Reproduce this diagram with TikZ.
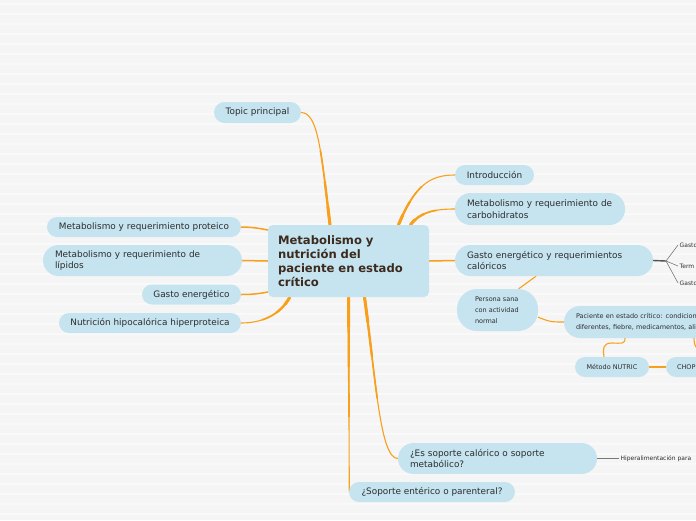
\documentclass[tikz,border=0pt]{standalone}
\usepackage{fontspec}
\setmainfont{DejaVu Sans}
\usetikzlibrary{calc}
\pgfdeclarelayer{bglayer}
\pgfdeclarelayer{connlayer}
\pgfsetlayers{bglayer,connlayer,main}
\definecolor{bgc}{RGB}{245,245,245}
\definecolor{stripec}{RGB}{249,249,249}
\definecolor{nodefill}{RGB}{197,228,240}
\definecolor{orangec}{RGB}{248,160,28}
\definecolor{txtc}{RGB}{45,45,45}
\definecolor{titlec}{RGB}{60,42,30}
\definecolor{grayc}{RGB}{120,120,120}
\tikzset{
  pill/.style={fill=nodefill, draw=none, rounded corners=#1, text=txtc, inner sep=0pt,
    font=\fontsize{8.9}{11.5}\selectfont},
  pill/.default=10pt,
  pilltwo/.style={pill=15.5pt, align=left, inner xsep=12pt},
  small/.style={font=\fontsize{6.5}{11}\selectfont},
  leaf/.style={text=txtc, font=\fontsize{6}{7}\selectfont, inner sep=1.5pt, anchor=west},
  conn/.style={draw=orangec, line width=1.5pt, line cap=round},
  thinconn/.style={draw=orangec, line width=1.1pt, line cap=round},
  grayconn/.style={draw=grayc, line width=0.6pt},
}
% tapered branch: #1 start coordinate, #2 length (pt), #3 path
\newcommand\tbranch[3]{%
  \foreach \w/\f in {1.1/10, 1.7/0.6, 2.3/0.35, 3.0/0.15} {%
    \begin{scope}
      \clip (#1) circle ({\f*#2 pt});
      \draw[orangec, line width=\w pt, line cap=round] #3;
    \end{scope}}}
\begin{document}
\begin{tikzpicture}[x=1pt,y=-1pt]
\useasboundingbox (0,0) rectangle (696,520);
\begin{pgfonlayer}{bglayer}
\fill[bgc] (0,0) rectangle (696,520);
\foreach \yy in {4,14,...,520} {\draw[stripec, line width=1.5pt] (0,\yy) -- (696,\yy);}
\end{pgfonlayer}

% central
\node[fill=nodefill, rounded corners=5pt, minimum width=161pt, minimum height=72pt,
  text width=141pt, align=left, inner sep=0pt, text=titlec,
  font=\bfseries\fontsize{11.6}{14}\selectfont] (c) at (348.5,261)
  {Metabolismo y\\nutrición del\\paciente en estado\\crítico};

% right side
\node[pill=10.5pt, minimum width=87pt, minimum height=21pt] (topic) at (257.5,112.5) {Topic principal};
\node[pill, minimum width=79pt, minimum height=20pt] (intro) at (494.5,175) {Introducción};
\node[pilltwo, minimum height=32pt, text width=146pt] (carbo) at (540,209)
  {Metabolismo y requerimiento de\\carbohidratos};
\node[pilltwo, minimum height=31pt, text width=174pt] (gasto) at (554,260.5)
  {Gasto energético y requerimientos\\calóricos};
\node[pill=20pt, small, align=left, minimum height=42pt, text width=45pt, inner xsep=18pt] (persona) at (497.5,310)
  {Persona sana\\con actividad\\normal};
\node[pill=16pt, small, align=left, minimum height=32pt, text width=170pt, inner xsep=12pt] (paciente) at (661,322)
  {Paciente en estado crítico: condiciones\\diferentes, fiebre, medicamentos, ali};
\node[pill, small, minimum width=74pt, minimum height=20pt] (nutric) at (612,367) {Método NUTRIC};
\node[pill, small, align=left, text width=32pt, inner xsep=11pt, minimum height=20pt] (chop) at (693,367) {CHOP};
\node[pilltwo, minimum height=31pt, text width=175pt] (soporte) at (497.5,458.5)
  {¿Es soporte calórico o soporte\\metabólico?};
\node[pill, minimum width=166pt, minimum height=20pt] (enterico) at (432,492) {¿Soporte entérico o parenteral?};

% left side
\node[pill, minimum width=194pt, minimum height=20pt] (proteico) at (144,227) {Metabolismo y requerimiento proteico};
\node[pilltwo, minimum height=31pt, text width=175pt] (lipidos) at (142.5,260.5)
  {Metabolismo y requerimiento de\\lípidos};
\node[pill, minimum width=99pt, minimum height=20pt] (gastoE) at (191.5,294.5) {Gasto energético};
\node[pill, minimum width=182pt, minimum height=20pt] (nutricion) at (150,323) {Nutrición hipocalórica hiperproteica};

% leaves
\node[leaf] (leafA) at (678,245) {Gasto};
\node[leaf] (leafB) at (678,266) {Term};
\node[leaf] (leafC) at (678,283) {Gasto};
\node[leaf] (hiper) at (619,458.5) {Hiperalimentación para};
\coordinate (fan) at (666,261);

% start points on the central topic
\coordinate (sTopic) at ([xshift=-18.5pt]c.north);
\coordinate (sIntro) at ([xshift=50pt]c.north);
\coordinate (sCarbo) at ([xshift=62pt]c.north);
\coordinate (sSop) at ([xshift=16pt]c.south);
\coordinate (sEnt) at (c.south);
\coordinate (sNut) at ([xshift=22pt]c.south west);

\begin{pgfonlayer}{connlayer}
\tbranch{sTopic}{125}{(sTopic) .. controls (321,150) and (318,113) .. (topic.east)}
\tbranch{sIntro}{75}{(sIntro) .. controls (415,185) and (430,175) .. (intro.west)}
\tbranch{sCarbo}{50}{(sCarbo) .. controls (420,212) and (435,209) .. (carbo.west)}
\tbranch{sSop}{170}{(sSop) .. controls (376,380) and (380,458.5) .. (soporte.west)}
\tbranch{sEnt}{200}{(sEnt) -- ([xshift=0.5pt]enterico.west)}
\tbranch{sNut}{60}{(sNut) .. controls (280,315) and (262,323) .. (nutricion.east)}
\draw[conn] (c.east) -- (gasto.west);
\draw[conn] ([yshift=31pt]c.west) .. controls (258,228) and (250,227) .. (proteico.east);
\draw[conn] (c.west) -- (lipidos.east);
\draw[conn] ([yshift=-31pt]c.west) .. controls (258,294) and (250,294.5) .. (gastoE.east);

\draw[thinconn] ([xshift=-18pt]gasto.south) -- (persona.45);
\draw[thinconn] (persona.-10) .. controls (550,322) and (552,322) .. (paciente.west);
\draw[thinconn] ([xshift=-36pt]paciente.south) .. controls (625,345) and (620,343) .. (612,343)
   .. controls (602,343) and (603,350) .. ([xshift=-8pt]nutric.north);
\draw[thinconn] (nutric.east) -- (chop.west);
\draw[thinconn] ([xshift=33pt]paciente.south) .. controls (694,350) and (700,348) .. ([xshift=7pt]chop.north);

\draw[draw=grayc!70!black, line width=1.4pt] (gasto.east) -- (fan);
\draw[grayconn] (fan) -- (leafA.west);
\draw[grayconn] (fan) -- (leafB.west);
\draw[grayconn] (fan) -- (leafC.west);
\draw[grayconn] (soporte.east) -- (hiper.west);
\end{pgfonlayer}
\end{tikzpicture}
\end{document}
